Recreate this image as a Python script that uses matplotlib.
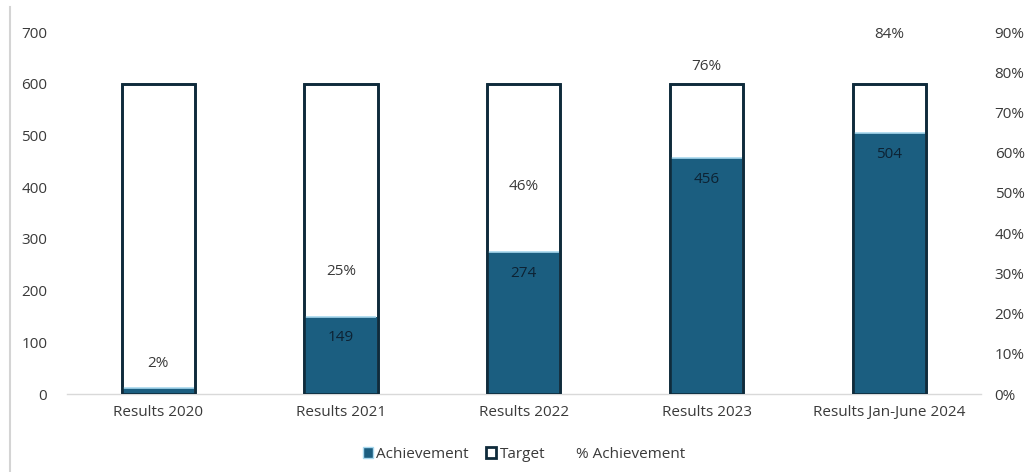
import numpy as np
import matplotlib.pyplot as plt
from matplotlib.patches import Patch
from matplotlib.lines import Line2D

plt.rcParams['font.family'] = ['Open Sans', 'DejaVu Sans']

categories = ['Results 2020', 'Results 2021', 'Results 2022', 'Results 2023',
              'Results Jan-June 2024']
target = [600, 600, 600, 600, 600]
achievement = [12, 149, 274, 456, 504]
pct_achievement = [0.02, 0.25, 0.46, 0.76, 0.84]
show_value = [False, True, True, True, True]

fill_col = '#1b5e80'
edge_col = '#0f2b3b'
text_col = '#3a3a3a'
fs = 11

fig = plt.figure(figsize=(10.27, 4.72), dpi=100)
ax = fig.add_axes([0.065, 0.165, 0.89, 0.767])
x = np.arange(len(categories))
w = 0.40

# target as hollow outline, achievement filled on top of it
ax.bar(x, target, w, facecolor='white', edgecolor=edge_col, linewidth=1.9, zorder=2)
ax.bar(x, achievement, w - 0.01, facecolor=fill_col, edgecolor='none', zorder=3)
ax.hlines(achievement, x - w / 2 + 0.006, x + w / 2 - 0.006, colors='#a8d8ee',
          linewidth=1.2, zorder=4)
ax.bar(x, target, w, facecolor='none', edgecolor=edge_col, linewidth=1.9, zorder=5)

for xi, v, s in zip(x, achievement, show_value):
    if s:
        ax.annotate(str(v), (xi, v), xytext=(0, -15), textcoords='offset points',
                    ha='center', va='center', fontsize=fs, color='#0d2233', zorder=6)

ax.set_ylim(0, 700)
ax.set_yticks(range(0, 701, 100))
ax.set_xlim(-0.5, len(categories) - 0.5)
ax.set_xticks(x)
ax.set_xticklabels(categories)
for s in ['top', 'right', 'left']:
    ax.spines[s].set_visible(False)
ax.spines['bottom'].set_color('#d9d9d9')
ax.spines['bottom'].set_linewidth(1)
ax.tick_params(length=0, colors=text_col, labelsize=fs)
ax.tick_params(axis='y', pad=14)
ax.tick_params(axis='x', pad=8)

# % achievement on the secondary axis, shown only through its labels
ax2 = ax.twinx()
ax2.plot(x, pct_achievement, linestyle='none')
ax2.set_ylim(0, 0.9)
ax2.set_yticks(np.arange(0, 0.91, 0.1))
ax2.set_yticklabels([f'{int(round(t * 100))}%' for t in np.arange(0, 0.91, 0.1)])
for s in ax2.spines.values():
    s.set_visible(False)
ax2.tick_params(length=0, colors=text_col, labelsize=fs, pad=10)
for xi, p in zip(x, pct_achievement):
    ax2.annotate(f'{int(round(p * 100))}%', (xi, p), xytext=(0, 16),
                 textcoords='offset points', ha='center', va='center',
                 fontsize=fs, color=text_col)

handles = [Patch(facecolor=fill_col, edgecolor='#a8d8ee', linewidth=1),
           Patch(facecolor='white', edgecolor=edge_col, linewidth=2),
           Line2D([], [], linestyle='none')]
fig.legend(handles, ['Achievement', 'Target', '% Achievement'], loc='center',
           bbox_to_anchor=(0.51, 0.038), ncol=3, frameon=False, fontsize=fs,
           handlelength=0.7, handleheight=0.7, handletextpad=0.2, columnspacing=1.1,
           labelcolor=text_col)

fig.add_artist(Line2D([0.01, 0.01], [0.0, 0.985], color='#d4d4d4', linewidth=1.5))

fig.savefig('out.png', dpi=100)
